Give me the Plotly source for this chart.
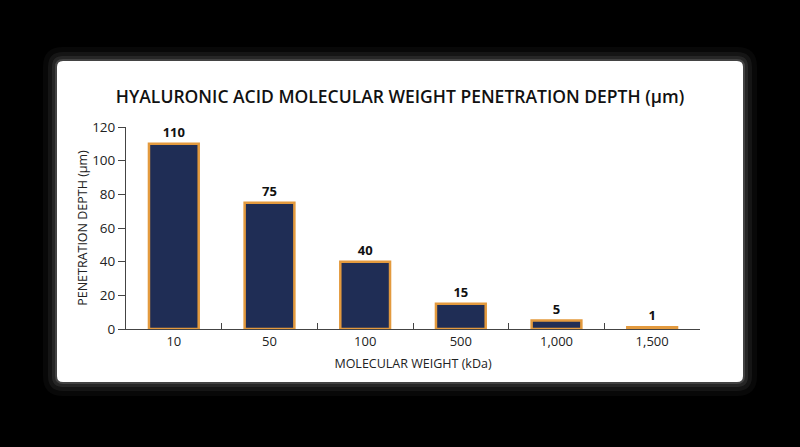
import plotly.graph_objects as go

# data
weights = ["10", "50", "100", "500", "1,000", "1,500"]
depth_um = [110, 75, 40, 15, 5, 1]
y_ticks = [0, 20, 40, 60, 80, 100, 120]

NAVY = "#1f2d55"
ORANGE = "#e39a3e"
FONT = "Open Sans"

W, H = 800, 447
L, R, T, B = 126, 100, 127, 118      # plot area: x 126..700, y 127..329
pw, ph = W - L - R, H - T - B
CARD = (57, 61, 743, 382)            # white card in figure pixels


def card_path(grow):
    # rounded rectangle, pixel box mapped to plot-area paper coords
    x0, y0, x1, y1 = CARD[0] - grow, CARD[1] - grow, CARD[2] + grow, CARD[3] + grow
    r = 6 + grow
    px0, px1 = (x0 - L) / pw, (x1 - L) / pw
    py0, py1 = (H - B - y1) / ph, (H - B - y0) / ph
    rx, ry = r / pw, r / ph
    return (f"M {px0+rx},{py0} L {px1-rx},{py0} Q {px1},{py0} {px1},{py0+ry} "
            f"L {px1},{py1-ry} Q {px1},{py1} {px1-rx},{py1} L {px0+rx},{py1} "
            f"Q {px0},{py1} {px0},{py1-ry} L {px0},{py0+ry} Q {px0},{py0} {px0+rx},{py0} Z")


shapes = []
for grow, alpha in [(14, 0.04), (9, 0.07), (5, 0.1), (2, 0.18), (0, 1.0)]:
    color = "white" if grow == 0 else f"rgba(200,200,200,{alpha})"
    shapes.append(dict(type="path", xref="paper", yref="paper", layer="below",
                       path=card_path(grow), fillcolor=color, line=dict(width=0)))

fig = go.Figure()
fig.add_trace(go.Bar(
    x=weights, y=depth_um,
    marker=dict(color=NAVY, line=dict(color=ORANGE, width=2.5)),
    text=depth_um, textposition="outside", cliponaxis=False,
    textfont=dict(family=FONT, size=13, color="#111111", weight=700),
    width=0.52,
))

fig.update_layout(
    width=W, height=H,
    paper_bgcolor="black", plot_bgcolor="rgba(0,0,0,0)",
    margin=dict(l=L, r=R, t=T, b=B),
    shapes=shapes,
    showlegend=False,
    font=dict(family=FONT, color="#222222"),
    title=dict(text="HYALURONIC ACID MOLECULAR WEIGHT PENETRATION DEPTH (µm)",
               x=0.5, xref="container", xanchor="center", y=1 - 97 / H, yanchor="middle",
               font=dict(family=FONT, size=17.5, color="#111111", weight=600)),
    xaxis=dict(
        title=dict(text="MOLECULAR WEIGHT (kDa)", font=dict(size=12.5, color="#222222"), standoff=10),
        showline=True, linecolor="#444444", linewidth=1,
        ticks="inside", ticklen=6, tickcolor="#444444", tickson="boundaries",
        tickfont=dict(size=13, color="#222222"), showgrid=False,
    ),
    yaxis=dict(
        title=dict(text="PENETRATION DEPTH (µm)", font=dict(size=12.5, color="#222222"), standoff=1),
        range=[0, 120], tickvals=y_ticks,
        showline=True, linecolor="#444444", linewidth=1,
        ticks="outside", ticklen=7, tickcolor="#444444",
        tickfont=dict(size=13.5, color="#222222"), showgrid=False, zeroline=False,
    ),
)

fig.write_html("out.html", config={"displayModeBar": False},
               post_script="document.body.style.margin='0';document.body.style.background='black';")
